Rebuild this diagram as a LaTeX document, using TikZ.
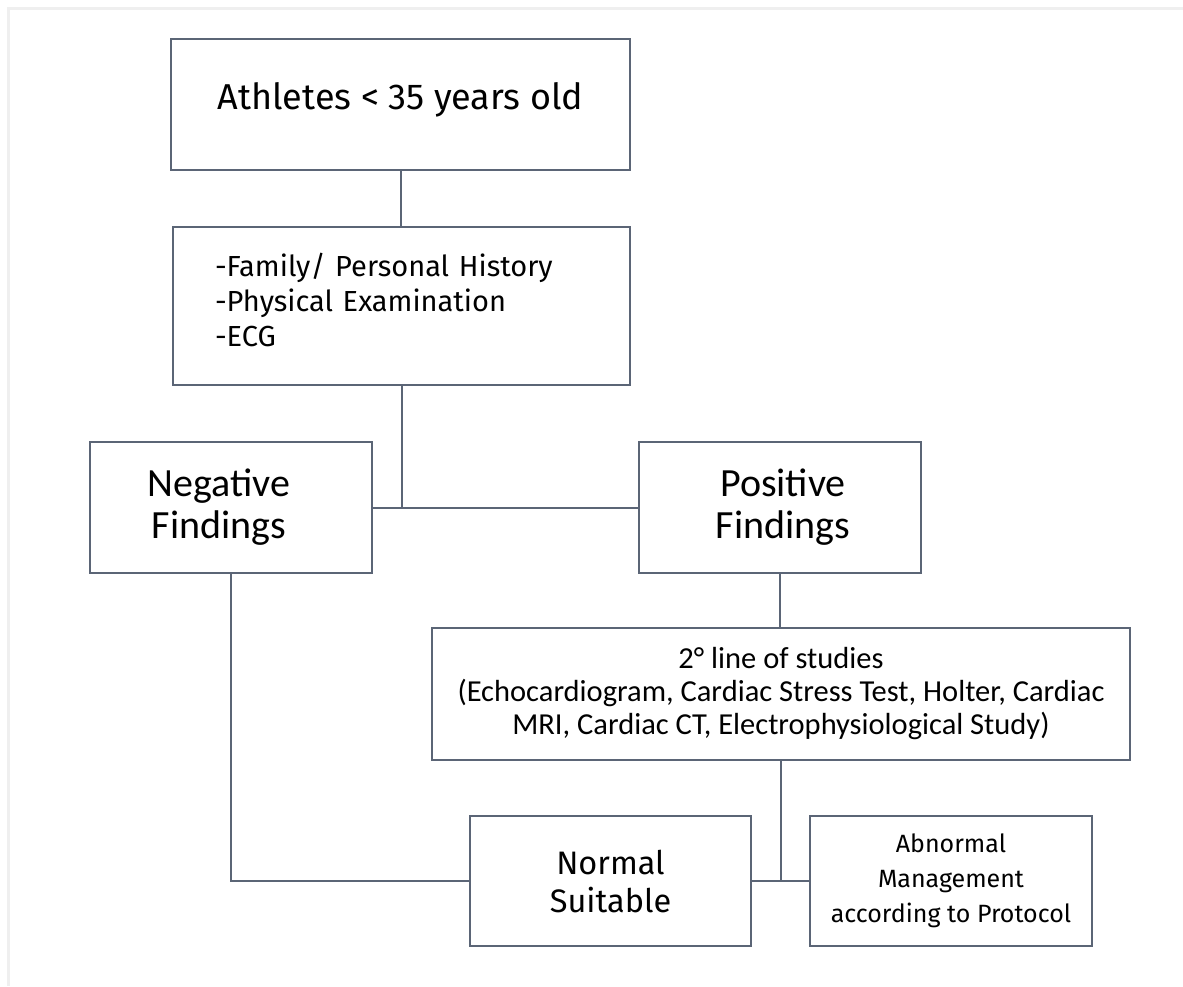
\documentclass[tikz,border=0pt]{standalone}
\usepackage{fontspec}
\setmainfont{Fira Sans}
\newfontfamily\calib{Carlito}
\definecolor{boxline}{HTML}{5B6576}
\definecolor{frame}{HTML}{EFEFEF}
\tikzset{box/.style={draw=boxline,line width=2pt,inner sep=0pt,align=center},
	link/.style={draw=boxline,line width=2pt}}
\begin{document}
\begin{tikzpicture}[x=1pt,y=-1pt]
		\useasboundingbox (0,0) rectangle (1183,986);
		\draw[frame,line width=3pt] (8,986) -- (8,8) -- (1183,8);
		\node[box,minimum width=459pt,minimum height=131pt,text height=30pt,text depth=20pt,font=\fontsize{36}{44}\selectfont] (ath) at (400.5,104.5) {Athletes < 35 years old};
		\node[box,minimum width=457pt,minimum height=158pt,text width=373pt,align=left,inner xsep=42pt,text depth=82pt,font=\fontsize{29}{35}\selectfont] (hist) at (401.5,306) {-Family/ Personal History\\-Physical Examination\\-ECG};
		\node[box,minimum width=282pt,minimum height=131pt,font=\calib\fontsize{40}{42}\selectfont] (neg) at (231,507.5) {Negative\hspace*{24pt}\\Findings\hspace*{24pt}};
		\node[box,minimum width=282pt,minimum height=131pt,font=\calib\fontsize{40}{42}\selectfont] (pos) at (780,507.5) {\hspace*{6pt}Positive\\\hspace*{6pt}Findings};
		\node[box,minimum width=698pt,minimum height=132pt,font=\calib\fontsize{30.5}{33}\selectfont] (stud) at (781,694) {2\textdegree{} line of studies\\(Echocardiogram, Cardiac Stress Test, Holter, Cardiac\\MRI, Cardiac CT, Electrophysiological Study)};
		\node[box,minimum width=281pt,minimum height=130pt,font=\fontsize{32.5}{38}\selectfont] (norm) at (610.5,881) {Normal\\Suitable};
		\node[box,minimum width=282pt,minimum height=130pt,font=\fontsize{25}{35}\selectfont] (abn) at (951,881) {Abnormal\\Management\\according to Protocol};
		\draw[link] (ath.south) -- (ath.south |- hist.north);\draw[link] (hist.south) -- (hist.south |- neg.east);
		\draw[link] (neg.east) -- (pos.west);\draw[link] (pos.south) -- (pos.south |- stud.north);
		\draw[link] (stud.south) -- (stud.south |- norm.east);\draw[link] (norm.east) -- (abn.west);
		\draw[link] (neg.south) |- (norm.west);
	\end{tikzpicture}
\end{document}
